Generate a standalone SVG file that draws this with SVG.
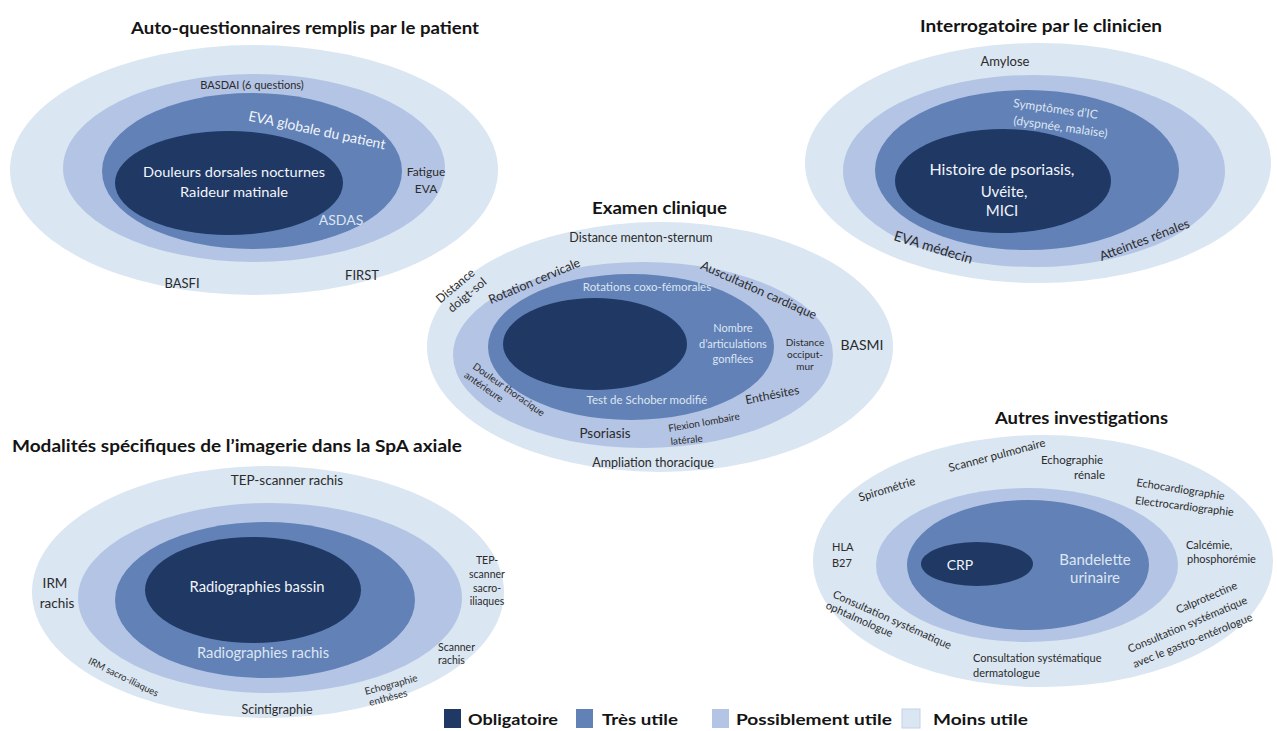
<svg xmlns="http://www.w3.org/2000/svg" width="1277" height="731" viewBox="0 0 1277 731">
<defs>
<style>
.c1{fill:#dae6f2}
.c2{fill:#b4c4e4}
.c3{fill:#6181b7}
.c4{fill:#1f3864}
text{font-family:Lato,"Open Sans","Liberation Sans",sans-serif;fill:#2b2b2b}
.m{text-anchor:middle}
.e{text-anchor:end}
.lt{fill:#dde6f2}
.w{fill:#f2f5fa}
.ttl{font-weight:bold;font-size:17px;fill:#141414}
.lg{font-weight:bold;font-size:16px;fill:#141414}
</style>
</defs>
<rect width="1277" height="731" fill="#ffffff"/>

<g id="auto-questionnaires">
<ellipse class="c1" cx="254" cy="170" rx="244" ry="125"/>
<ellipse class="c2" cx="254" cy="168" rx="191" ry="94"/>
<ellipse class="c3" cx="252" cy="171" rx="150" ry="78"/>
<ellipse class="c4" cx="229" cy="183" rx="114" ry="52"/>
<text class="ttl" x="131" y="34" textLength="348" lengthAdjust="spacingAndGlyphs">Auto-questionnaires remplis par le patient</text>
<text class="m" x="252" y="89" font-size="11">BASDAI (6 questions)</text>
<text class="m w" transform="translate(316,135) rotate(12)" font-size="14">EVA globale du patient</text>
<text class="m w" x="234" y="177" font-size="14" textLength="182" lengthAdjust="spacingAndGlyphs">Douleurs dorsales nocturnes</text>
<text class="m w" x="234" y="197" font-size="14" textLength="108" lengthAdjust="spacingAndGlyphs">Raideur matinale</text>
<text class="m lt" x="341" y="225" font-size="14">ASDAS</text>
<text class="m" x="426" y="176" font-size="12">Fatigue</text>
<text class="m" x="426" y="193" font-size="12">EVA</text>
<text class="m" x="362" y="280" font-size="13">FIRST</text>
<text class="m" x="182" y="288" font-size="13">BASFI</text>
</g>

<g id="interrogatoire">
<ellipse class="c1" cx="1038" cy="163" rx="233" ry="120"/>
<ellipse class="c2" cx="1034" cy="171" rx="191" ry="96"/>
<ellipse class="c3" cx="1027" cy="170" rx="152" ry="80"/>
<ellipse class="c4" cx="1003" cy="181" rx="108" ry="52"/>
<text class="ttl" x="920" y="32" textLength="242" lengthAdjust="spacingAndGlyphs">Interrogatoire par le clinicien</text>
<text class="m" x="1005" y="66" font-size="13">Amylose</text>
<text class="m lt" transform="translate(1055,113) rotate(8)" font-size="12">Symptômes d’IC</text>
<text class="m lt" transform="translate(1060,131) rotate(8)" font-size="12">(dyspnée, malaise)</text>
<text class="m w" x="1002" y="175" font-size="15" textLength="145" lengthAdjust="spacingAndGlyphs">Histoire de psoriasis,</text>
<text class="m w" x="1004" y="197" font-size="15">Uvéite,</text>
<text class="m w" x="1002" y="216" font-size="15">MICI</text>
<text class="m" transform="translate(932,252) rotate(17)" font-size="14">EVA médecin</text>
<text class="m" transform="translate(1146,244) rotate(-21)" font-size="13">Atteintes rénales</text>
</g>

<g id="examen-clinique">
<ellipse class="c1" cx="660" cy="347" rx="233" ry="125"/>
<ellipse class="c2" cx="643" cy="355" rx="190" ry="93"/>
<ellipse class="c3" cx="631" cy="347" rx="143" ry="73"/>
<ellipse class="c4" cx="595" cy="344" rx="92" ry="46"/>
<text class="ttl" x="592" y="214" textLength="135" lengthAdjust="spacingAndGlyphs">Examen clinique</text>
<text class="m" x="641" y="242" font-size="12.5">Distance menton-sternum</text>
<g transform="translate(461,291) rotate(-40)">
<text class="m" x="-1" y="-3.5" font-size="12">Distance</text>
<text class="m" x="2" y="11" font-size="12">doigt-sol</text>
</g>
<text class="m" transform="translate(536,285) rotate(-23)" font-size="12.5">Rotation cervicale</text>
<text class="m" transform="translate(757,294) rotate(24)" font-size="12.5">Auscultation cardiaque</text>
<text class="m lt" x="647" y="291" font-size="11.5">Rotations coxo-fémorales</text>
<text class="m lt" x="733" y="332" font-size="11">Nombre</text>
<text class="m lt" x="733" y="348" font-size="11">d’articulations</text>
<text class="m lt" x="733" y="363" font-size="11">gonflées</text>
<text class="m" x="805" y="346" font-size="10">Distance</text>
<text class="m" x="805" y="358" font-size="10">occiput-</text>
<text class="m" x="805" y="370" font-size="10">mur</text>
<text class="m" x="862" y="350" font-size="14">BASMI</text>
<g transform="translate(472,368) rotate(35)">
<text x="0" y="0" font-size="10">Douleur thoracique</text>
<text x="-2" y="12" font-size="10">antérieure</text>
</g>
<text class="m lt" x="647" y="404" font-size="11.5">Test de Schober modifié</text>
<text class="m" transform="translate(773,399) rotate(-11)" font-size="12">Enthésites</text>
<text class="m" x="605" y="438" font-size="13.5">Psoriasis</text>
<text transform="translate(669,432) rotate(-10)" font-size="10">Flexion lombaire</text>
<text transform="translate(671,445) rotate(-6)" font-size="10">latérale</text>
<text class="m" x="653" y="467" font-size="12.5">Ampliation thoracique</text>
</g>

<g id="imagerie">
<ellipse class="c1" cx="268" cy="592" rx="236" ry="126"/>
<ellipse class="c2" cx="270" cy="598" rx="192" ry="95"/>
<ellipse class="c3" cx="265" cy="600" rx="150" ry="78"/>
<ellipse class="c4" cx="253" cy="590" rx="108" ry="53"/>
<text class="ttl" x="12" y="452" textLength="450" lengthAdjust="spacingAndGlyphs">Modalités spécifiques de l’imagerie dans la SpA axiale</text>
<text class="m" x="287" y="485" font-size="13.5">TEP-scanner rachis</text>
<text class="m" x="55" y="588" font-size="13.5">IRM</text>
<text class="m" x="57" y="608" font-size="13.5">rachis</text>
<text class="m w" x="257" y="592" font-size="14.5" textLength="135" lengthAdjust="spacingAndGlyphs">Radiographies bassin</text>
<text class="m lt" x="263" y="658" font-size="14.5" textLength="132" lengthAdjust="spacingAndGlyphs">Radiographies rachis</text>
<text class="m" transform="translate(122,680) rotate(26)" font-size="9.5">IRM sacro-iliaques</text>
<text class="m" x="277" y="714" font-size="12.5">Scintigraphie</text>
<text class="m" transform="translate(392,688) rotate(-15)" font-size="10">Echographie</text>
<text class="m" transform="translate(389,701) rotate(-15)" font-size="10">enthèses</text>
<text class="m" x="487" y="564" font-size="10.5">TEP-</text>
<text class="m" x="487" y="578" font-size="10.5">scanner</text>
<text class="m" x="487" y="592" font-size="10.5">sacro-</text>
<text class="m" x="487" y="605" font-size="10.5">iliaques</text>
<text x="438" y="651" font-size="10.5">Scanner</text>
<text x="438" y="664" font-size="10.5">rachis</text>
</g>

<g id="autres-investigations">
<ellipse class="c1" cx="1043" cy="561" rx="230" ry="126"/>
<ellipse class="c2" cx="1027" cy="565" rx="151" ry="77"/>
<ellipse class="c3" cx="1028" cy="565" rx="121" ry="65"/>
<ellipse class="c4" cx="977" cy="564" rx="56" ry="22"/>
<text class="ttl" x="995" y="424" textLength="173" lengthAdjust="spacingAndGlyphs">Autres investigations</text>
<text class="m" transform="translate(998,459) rotate(-15)" font-size="11.5">Scanner pulmonaire</text>
<text class="m" x="1072" y="464" font-size="11.5">Echographie</text>
<text class="e" x="1105" y="479" font-size="11.5">rénale</text>
<text class="m" transform="translate(888,493) rotate(-17)" font-size="11.5">Spirométrie</text>
<text class="m" transform="translate(1180,493) rotate(9)" font-size="11">Echocardiographie</text>
<text class="m" transform="translate(1184,510) rotate(7)" font-size="11">Electrocardiographie</text>
<text x="832" y="551" font-size="11">HLA</text>
<text x="832" y="567" font-size="11">B27</text>
<text class="m w" x="960" y="570" font-size="14">CRP</text>
<text class="m lt" x="1095" y="565" font-size="15">Bandelette</text>
<text class="m lt" x="1095" y="583" font-size="15">urinaire</text>
<text x="1186" y="549" font-size="11">Calcémie,</text>
<text x="1187" y="563" font-size="11">phosphorémie</text>
<g transform="translate(832,597) rotate(24)">
<text x="0" y="0" font-size="11">Consultation systématique</text>
<text x="-2" y="13" font-size="11">ophtalmologue</text>
</g>
<text x="973" y="662" font-size="11">Consultation systématique</text>
<text x="973" y="677" font-size="11">dermatologue</text>
<text class="m" transform="translate(1208,601) rotate(-23)" font-size="11">Calprotectine</text>
<text class="m" transform="translate(1189,628) rotate(-23)" font-size="11">Consultation systématique</text>
<text class="m" transform="translate(1194,644) rotate(-22)" font-size="11">avec le gastro-entérologue</text>
</g>

<g id="legende">
<rect class="c4" x="444" y="709" width="17" height="19"/>
<text class="lg" x="468" y="725" textLength="90" lengthAdjust="spacingAndGlyphs">Obligatoire</text>
<rect class="c3" x="576" y="709" width="17" height="19"/>
<text class="lg" x="602" y="725" textLength="76" lengthAdjust="spacingAndGlyphs">Très utile</text>
<rect class="c2" x="712" y="709" width="17" height="19"/>
<text class="lg" x="736" y="725" textLength="156" lengthAdjust="spacingAndGlyphs">Possiblement utile</text>
<rect class="c1" x="902" y="709" width="18" height="19" stroke="#c3d2e8" stroke-width="1"/>
<text class="lg" x="933" y="725" textLength="95" lengthAdjust="spacingAndGlyphs">Moins utile</text>
</g>
</svg>
